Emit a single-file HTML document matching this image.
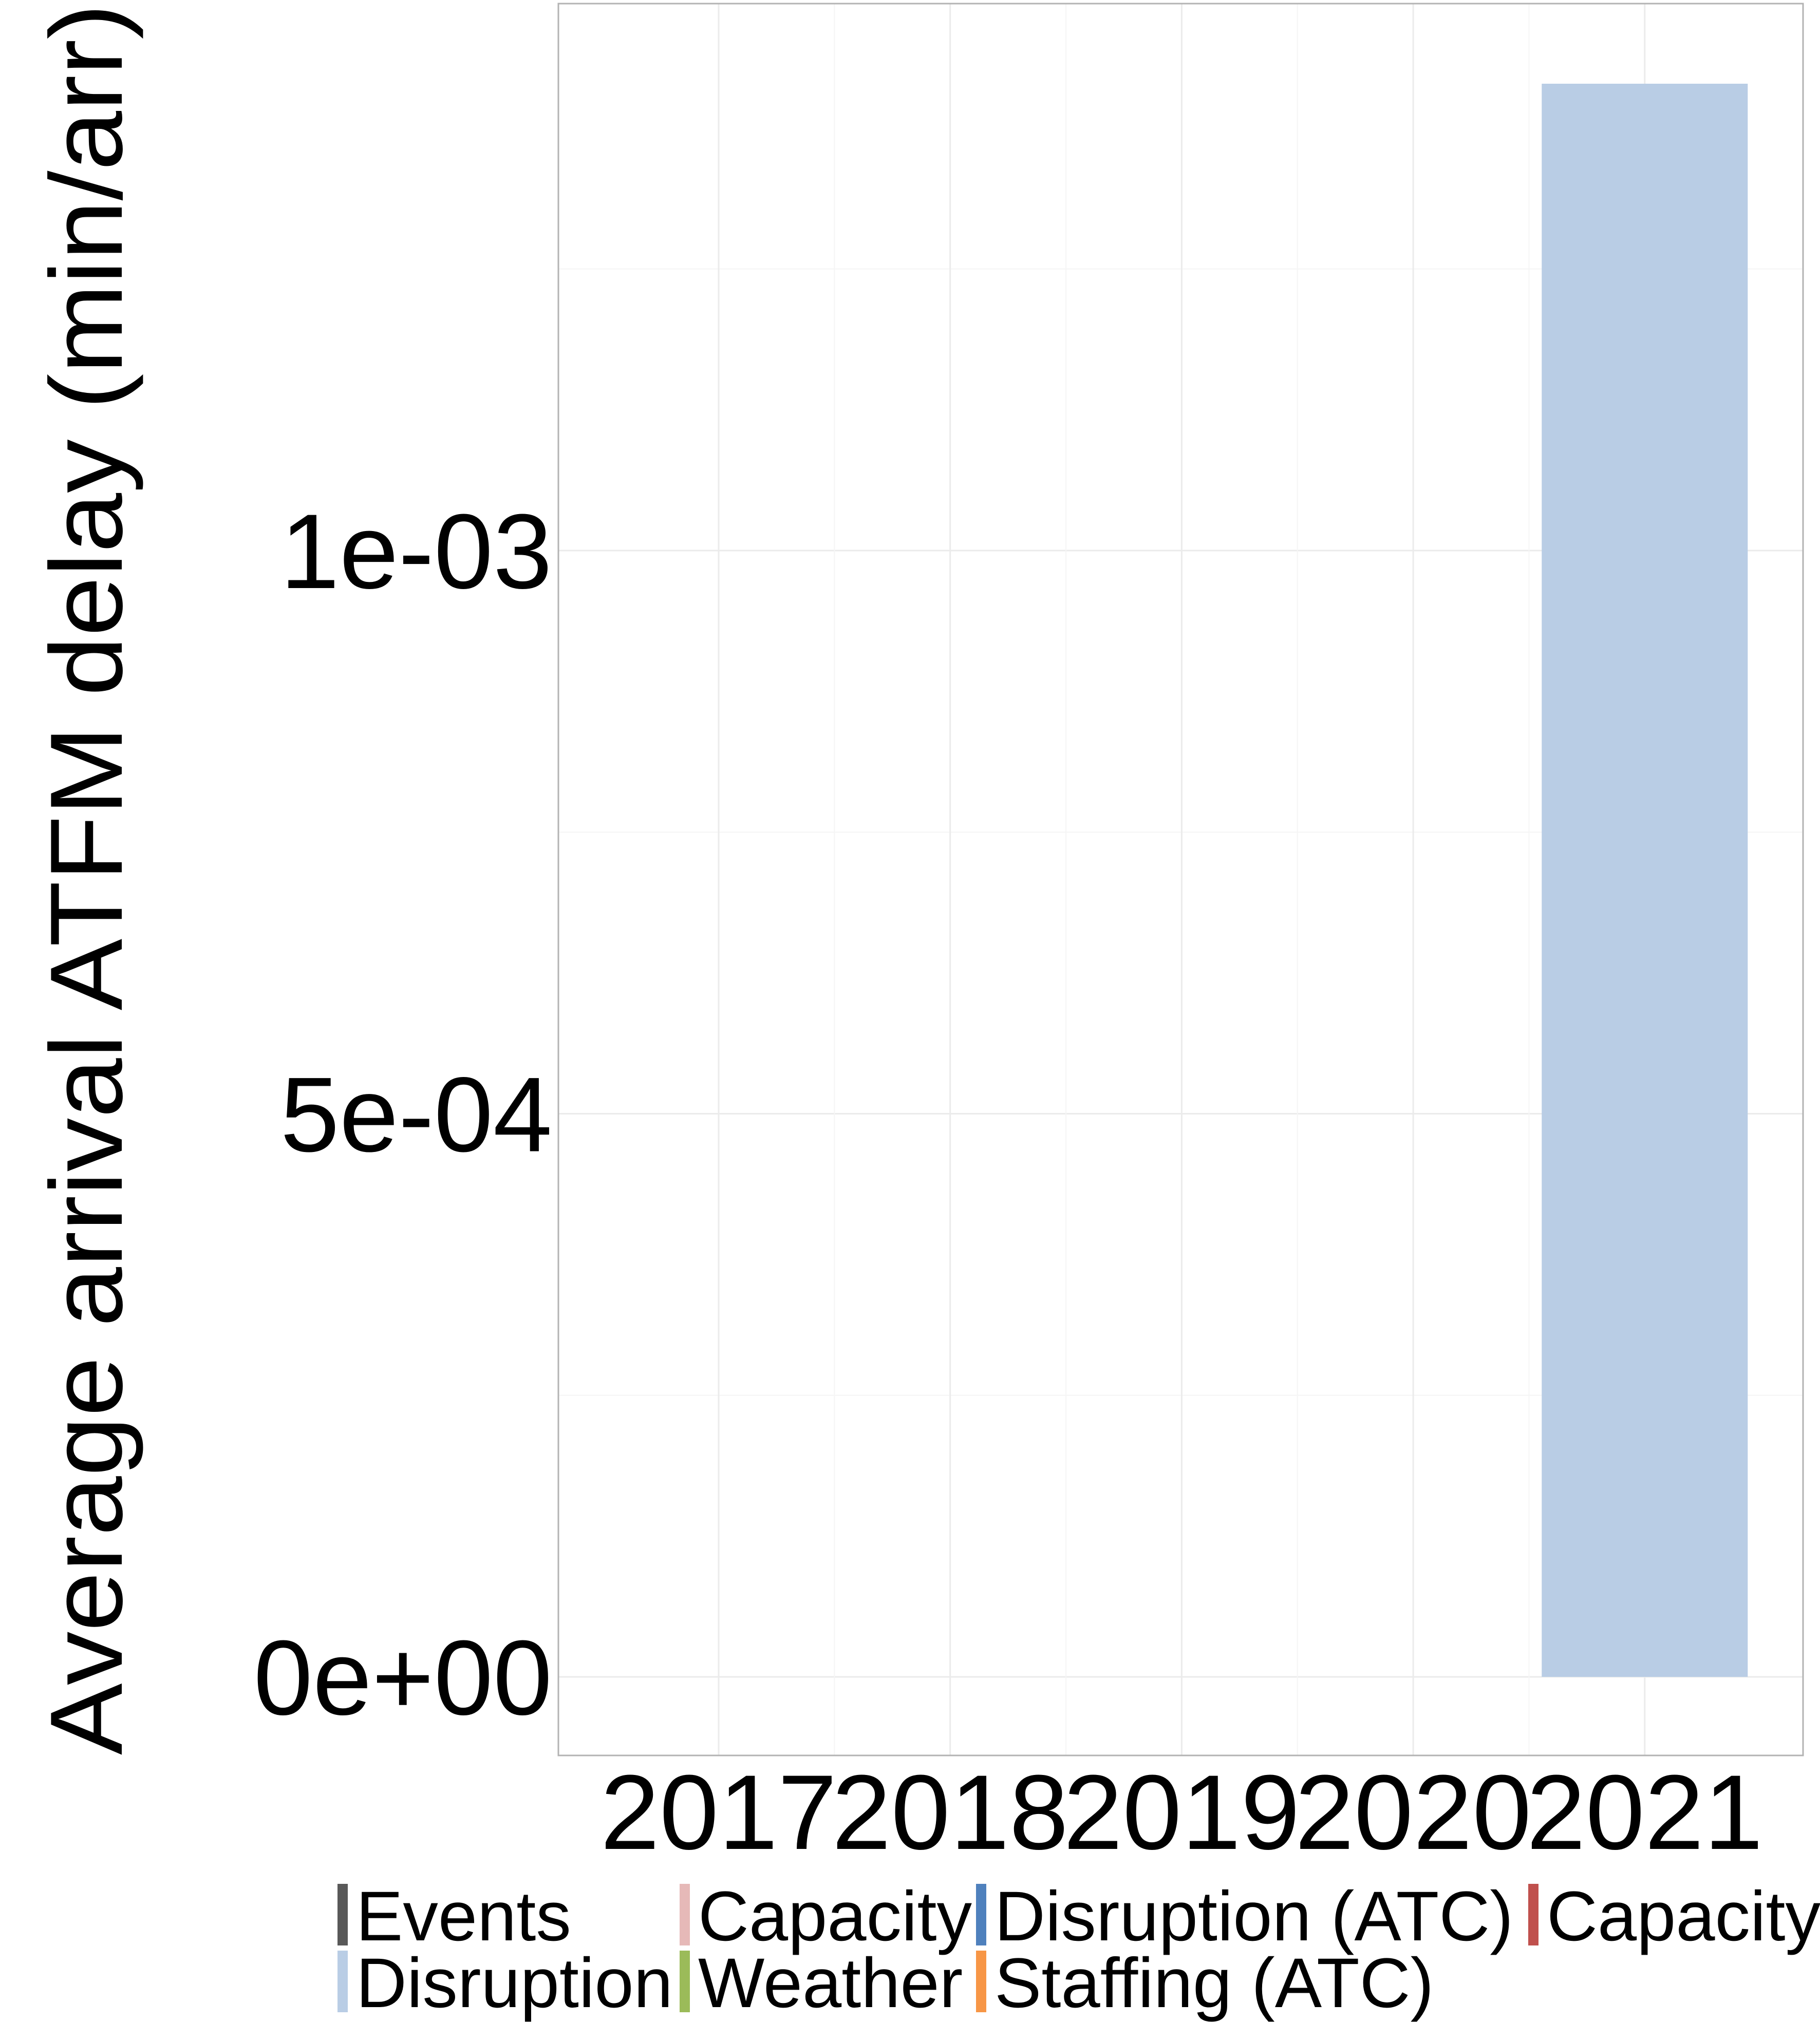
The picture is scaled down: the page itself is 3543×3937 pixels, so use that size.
<!DOCTYPE html>
<html><head><meta charset="utf-8"><style>
html,body{margin:0;padding:0;background:#fff;}
svg{display:block;font-family:"Liberation Sans",Arial,sans-serif;}
</style></head><body>
<svg id="chart" width="3543" height="3937" viewBox="0 0 3543 3937" xmlns="http://www.w3.org/2000/svg">
<rect x="0" y="0" width="3543" height="3937" fill="#fff"/>
<g id="grid"></g>
<g id="bars"></g>
<rect x="1087" y="7" width="2423" height="3411" fill="none" stroke="#b3b3b3" stroke-width="3"/>
<g id="yticks"></g>
<g id="xticks"></g>
<text transform="translate(237,1712) rotate(-90)" text-anchor="middle" font-size="200" textLength="3410" lengthAdjust="spacingAndGlyphs">Average arrival ATFM delay (min/arr)</text>
<g id="legend"></g>
</svg>
<script>
const categories=["2017","2018","2019","2020","2021"];
const values=[0,0,0,0,0.0014145];
const yTicks=[0,0.0005,0.001];
const yTickLabels=["0e+00","5e-04","1e-03"];
const yMinor=[0.00025,0.00075,0.00125];
const legendLabels=["Events","Capacity","Disruption (ATC)","Capacity","Disruption","Weather","Staffing (ATC)"];
const legendColors=["#595959","#e6b9b8","#4f81bd","#c0504d","#b9cde5","#9bbb59","#f79646"];

const NS="http://www.w3.org/2000/svg";
const panelL=1087,panelR=3510,panelT=7,panelB=3418;
function y(v){return 3265-v*2193000;}
function x(i){return 1399+i*450.7;}
const bw=401;
function mk(tag,attrs,parent){const e=document.createElementNS(NS,tag);for(const k in attrs)e.setAttribute(k,attrs[k]);parent.appendChild(e);return e;}
const grid=document.getElementById('grid'),bars=document.getElementById('bars'),yt=document.getElementById('yticks'),xt=document.getElementById('xticks'),lg=document.getElementById('legend');
yMinor.forEach(v=>{const l=mk('line',{x1:panelL,x2:panelR,y1:y(v),y2:y(v),stroke:'#f5f5f5','stroke-width':2},grid);

});
yTicks.forEach((v,i)=>{const l=mk('line',{x1:panelL,x2:panelR,y1:y(v),y2:y(v),stroke:'#ebebeb','stroke-width':3},grid);


const t=mk('text',{x:1075,y:y(v)+73,'text-anchor':'end','font-size':207},yt);t.textContent=yTickLabels[i];

});
categories.forEach((c,i)=>{const l=mk('line',{x1:x(i),x2:x(i),y1:panelT,y2:panelB,stroke:'#ebebeb','stroke-width':3},grid);


if(i<categories.length-1){const m=mk('line',{x1:x(i)+225.35,x2:x(i)+225.35,y1:panelT,y2:panelB,stroke:'#f5f5f5','stroke-width':2},grid);

}
if(values[i]>0){const r=mk('rect',{x:x(i)-bw/2,y:y(values[i]),width:bw,height:y(0)-y(values[i]),fill:'#b9cde5'},bars);

}
const t=mk('text',{x:x(i),y:3600,'text-anchor':'middle','font-size':207},xt);t.textContent=c;

});
const lx=[657,1323,1900,2975,657,1323,1900];
const ly=[3668,3668,3668,3668,3798,3798,3798];
legendLabels.forEach((s,i)=>{const r=mk('rect',{x:lx[i],y:ly[i],width:20,height:120,fill:legendColors[i]},lg);


const t=mk('text',{x:lx[i]+36,y:ly[i]+110,'font-size':137},lg);t.textContent=s;

});
</script>
</body></html>
